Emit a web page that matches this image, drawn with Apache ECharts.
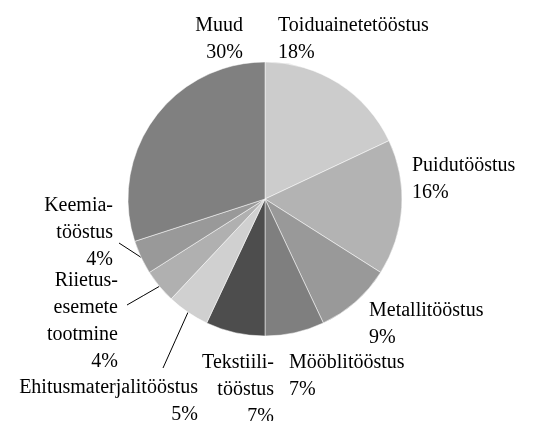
<!DOCTYPE html>
<html><head><meta charset="utf-8">
<script src="https://cdn.jsdelivr.net/npm/echarts@6/dist/echarts.min.js"></script>
<style>html,body{margin:0;padding:0;background:#fff}#c{width:547px;height:421px}</style>
</head><body><div id="c"></div>
<script>
const categories = ['Toiduainetetööstus','Puidutööstus','Metallitööstus','Mööblitööstus','Tekstiili-\ntööstus','Ehitusmaterjalitööstus','Riietus-\nesemete\ntootmine','Keemia-\ntööstus','Muud'];
const values = [18,16,9,7,7,5,4,4,30];
const colors = ['#cccccc','#b3b3b3','#999999','#7f7f7f','#4d4d4d','#d0d0d0','#b0b0b0','#999999','#808080'];
// label anchor placement: [x, top y, align]
const labelPlace = [
  [278, 12, 'left'], [412, 152, 'left'], [369, 297, 'left'], [289, 349, 'left'],
  [274, 349, 'right'], [198, 374, 'right'], [118, 267, 'right'], [113, 192, 'right'], [243, 12, 'right']
];
// leader line end offsets from the label anchor (null = no leader line)
const lineEnd = [null,null,null,null,null,[-35,-6],[9,38],[6,51],null];

const chart = echarts.init(document.getElementById('c'), null, {renderer:'canvas'});
chart.setOption({
  animation:false,
  series:[{
    type:'pie',
    center:[265,199],
    radius:[0,137],
    startAngle:90,
    clockwise:true,
    avoidLabelOverlap:false,
    data: categories.map((n,i)=>({name:n, value:values[i], itemStyle:{color:colors[i]},
      labelLine:{show:!!lineEnd[i], lineStyle:{color:'#000', width:1}}})),
    itemStyle:{borderColor:'#ffffff', borderWidth:0.5},
    label:{show:true, position:'outside', formatter:'{b}\n{c}%', color:'#000', overflow:'none',
      fontFamily:'Liberation Serif', fontSize:20, lineHeight:27},
    labelLine:{show:false, length:10, length2:10},
    labelLayout:function(p){
      const i = p.dataIndex;
      const lp = labelPlace[i];
      const res = {x:lp[0], y:lp[1], align:lp[2], verticalAlign:'top', hideOverlap:false};
      if (lineEnd[i] && p.labelLinePoints) {
        const s = p.labelLinePoints[0];
        const e = [lp[0]+lineEnd[i][0], lp[1]+lineEnd[i][1]];
        res.labelLinePoints = [s, [(s[0]+e[0])/2,(s[1]+e[1])/2], e];
      }
      return res;
    }
  }]
});
</script></body></html>
